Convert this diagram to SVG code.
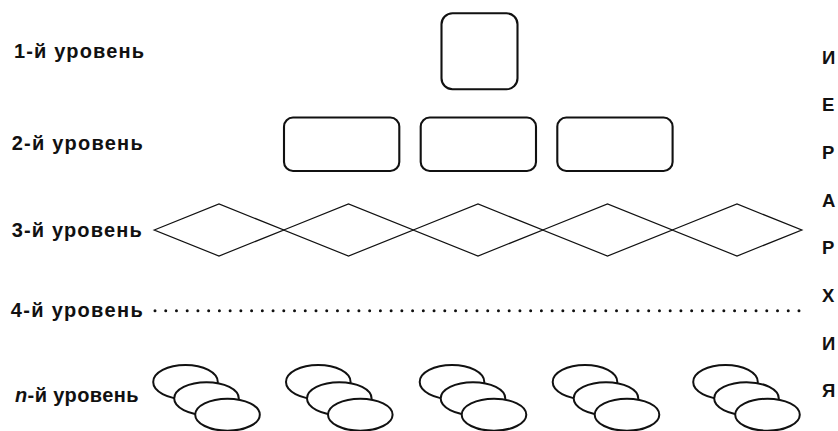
<svg xmlns="http://www.w3.org/2000/svg" width="838" height="431" viewBox="0 0 838 431">
<style>
.lbl{font-family:"Liberation Sans",Arial,Helvetica,sans-serif;font-size:20px;font-weight:bold;fill:#111}
.vert{font-family:"Liberation Sans",Arial,Helvetica,sans-serif;font-size:18.5px;font-weight:bold;fill:#111}
.box{fill:none;stroke:#111;stroke-width:2.1}
.dia{fill:none;stroke:#111;stroke-width:1.3;stroke-linejoin:miter}
.ell{fill:#fff;stroke:#111;stroke-width:2}
.dots{stroke:#111;stroke-width:3;stroke-linecap:round;stroke-dasharray:0 10.733}
</style>
<rect width="838" height="431" fill="#fff"/>
<g id="labels">
<text class="lbl" x="14" y="57.7" textLength="130" lengthAdjust="spacing">1-й уровень</text>
<text class="lbl" x="11.7" y="150" textLength="131" lengthAdjust="spacing">2-й уровень</text>
<text class="lbl" x="11.7" y="236.7" textLength="130" lengthAdjust="spacing">3-й уровень</text>
<text class="lbl" x="10.7" y="316.7" textLength="132" lengthAdjust="spacing">4-й уровень</text>
<text class="lbl" x="15" y="402" textLength="123.5" lengthAdjust="spacing"><tspan font-style="italic">n</tspan>-й уровень</text>
</g>
<g id="level1">
<rect id="node-1" class="box" x="441.5" y="13.3" width="76" height="76" rx="11"/>
</g>
<g id="level2">
<rect id="node-2a" class="box" x="284" y="117.5" width="115.3" height="53.5" rx="9"/>
<rect id="node-2b" class="box" x="420.7" y="117.5" width="115.3" height="53.5" rx="9"/>
<rect id="node-2c" class="box" x="557.3" y="117.5" width="115.3" height="53.5" rx="9"/>
</g>
<g id="level3">
<polygon id="node-3a" class="dia" points="154.25,230 219,204 283.75,230 219,256"/>
<polygon id="node-3b" class="dia" points="283.75,230 348.5,204 413.25,230 348.5,256"/>
<polygon id="node-3c" class="dia" points="413.25,230 478,204 542.75,230 478,256"/>
<polygon id="node-3d" class="dia" points="542.75,230 607.5,204 672.25,230 607.5,256"/>
<polygon id="node-3e" class="dia" points="672.25,230 737,204 801.75,230 737,256"/>
</g>
<g id="level4">
<line class="dots" x1="155" y1="310.7" x2="799" y2="310.7"/>
</g>
<g id="levelN">
<g id="node-na"><ellipse class="ell" cx="185.5" cy="382" rx="32.3" ry="17"/><ellipse class="ell" cx="206.5" cy="398.5" rx="32.3" ry="16.3"/><ellipse class="ell" cx="227.5" cy="414.7" rx="32.3" ry="16"/></g>
<g id="node-nb"><ellipse class="ell" cx="318.3" cy="382" rx="32.3" ry="17"/><ellipse class="ell" cx="339.3" cy="398.5" rx="32.3" ry="16.3"/><ellipse class="ell" cx="360.3" cy="414.7" rx="32.3" ry="16"/></g>
<g id="node-nc"><ellipse class="ell" cx="452" cy="382" rx="32.3" ry="17"/><ellipse class="ell" cx="473" cy="398.5" rx="32.3" ry="16.3"/><ellipse class="ell" cx="494" cy="414.7" rx="32.3" ry="16"/></g>
<g id="node-nd"><ellipse class="ell" cx="585" cy="382" rx="32.3" ry="17"/><ellipse class="ell" cx="606" cy="398.5" rx="32.3" ry="16.3"/><ellipse class="ell" cx="627" cy="414.7" rx="32.3" ry="16"/></g>
<g id="node-ne"><ellipse class="ell" cx="725.5" cy="382" rx="32.3" ry="17"/><ellipse class="ell" cx="746.5" cy="398.5" rx="32.3" ry="16.3"/><ellipse class="ell" cx="767.5" cy="414.7" rx="32.3" ry="16"/></g>
</g>
<g id="hierarchy-word">
<text class="vert" x="822" y="63.5">И</text>
<text class="vert" x="822" y="111.2">Е</text>
<text class="vert" x="822" y="158.9">Р</text>
<text class="vert" x="822" y="206.6">А</text>
<text class="vert" x="822" y="254.3">Р</text>
<text class="vert" x="822" y="302">Х</text>
<text class="vert" x="822" y="349.7">И</text>
<text class="vert" x="822" y="397.4">Я</text>
</g>
</svg>
